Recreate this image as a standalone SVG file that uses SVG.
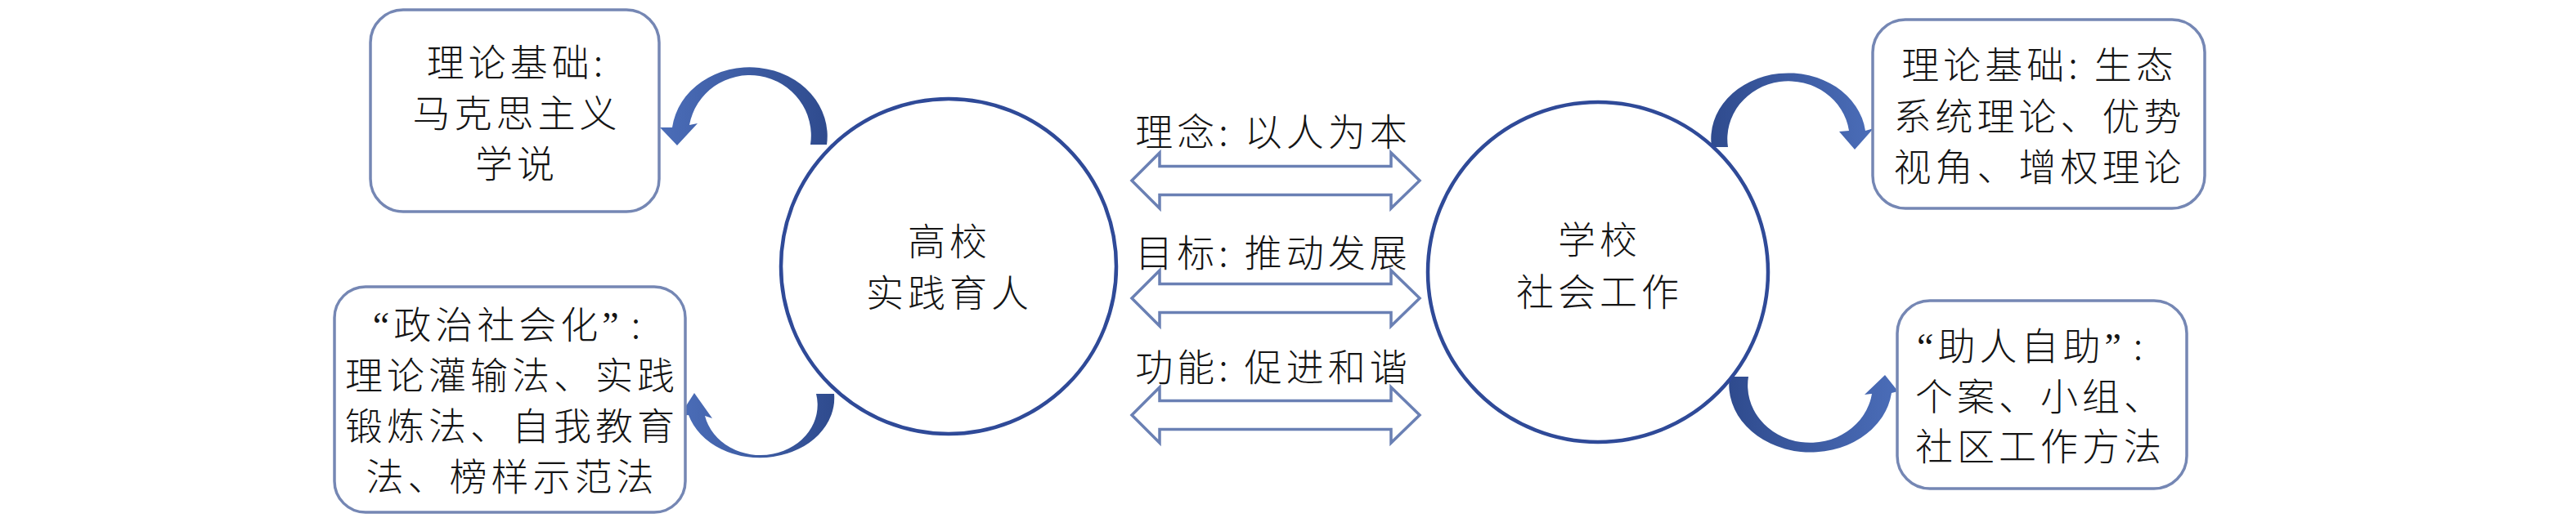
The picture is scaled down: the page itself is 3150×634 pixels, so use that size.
<svg xmlns="http://www.w3.org/2000/svg" width="3150" height="634" viewBox="0 0 3150 634">
  <defs>
    <style>
      .t { font-family: "Noto Sans CJK SC", "Noto Sans CJK TC", sans-serif; font-size: 46px; font-weight: 300; fill: #151515; letter-spacing: 5px; }
      .q { font-family: "Liberation Serif", serif; font-weight: normal; }
      .c { text-anchor: middle; }
      .s { text-anchor: start; }
      .box { fill: #ffffff; stroke: #7587B4; stroke-width: 3.5; }
      .circ { fill: #ffffff; stroke: #2F4A98; stroke-width: 4.5; }
      .dbl { fill: #ffffff; stroke: #6A80B4; stroke-width: 3.5; stroke-linejoin: miter; }
    </style>
    <linearGradient id="gHeadLeft" x1="1" y1="0" x2="0" y2="0">
      <stop offset="0" stop-color="#2F4B8E"/>
      <stop offset="1" stop-color="#4B6DB8"/>
    </linearGradient>
    <linearGradient id="gHeadRight" x1="0" y1="0" x2="1" y2="0">
      <stop offset="0" stop-color="#2F4B8E"/>
      <stop offset="1" stop-color="#4B6DB8"/>
    </linearGradient>
    <path id="dblArrow" d="M 1384,0 L 1418,-34 L 1418,-17.5 L 1701,-17.5 L 1701,-34 L 1736,0 L 1701,34 L 1701,17.5 L 1418,17.5 L 1418,34 Z"/>
  </defs>

  <rect width="3150" height="634" fill="#ffffff"/>

  <!-- connectors -->
  <g id="connectors">
    <use href="#dblArrow" class="dbl" transform="translate(0,221)"/>
    <use href="#dblArrow" class="dbl" transform="translate(0,365)"/>
    <use href="#dblArrow" class="dbl" transform="translate(0,508)"/>

    <!-- curved arrows -->
    <path id="arrowTL" fill="url(#gHeadLeft)" d="M 1011,177 A 95 84 0 0 0 822,156 L 807,156 L 828,178 L 853,151 L 843,153 A 75 74 0 0 1 991,177 Z"/>
    <path id="arrowBL" fill="url(#gHeadLeft)" d="M 1020,482 A 91 73 0 0 1 842,508 L 831,509 L 849,481 L 871,512 L 862,509 A 69 61 0 0 0 998,482 Z"/>
    <path id="arrowTR" fill="url(#gHeadRight)" d="M 2093,180 A 94 80 0 0 1 2281,160 L 2291,157 L 2268,183 L 2249,161 L 2261,160 A 74 70 0 0 0 2113,180 Z"/>
    <path id="arrowBR" fill="url(#gHeadRight)" d="M 2115,461 A 99 82 0 0 0 2313,481 L 2321,479 L 2305,459 L 2280,483 L 2289,482 A 76 70 0 0 1 2138,461 Z"/>
  </g>

  <g id="edge-labels">
    <text class="t c" x="1557" y="178">理念: 以人为本</text>
    <text class="t c" x="1557" y="326">目标: 推动发展</text>
    <text class="t c" x="1557" y="466">功能: 促进和谐</text>
  </g>

  <g id="node-university">
    <circle class="circ" cx="1160" cy="326" r="205"/>
    <text class="t c" x="1161" y="312">高校</text>
    <text class="t c" x="1161" y="375">实践育人</text>
  </g>

  <g id="node-school-sw">
    <circle class="circ" cx="1954" cy="333" r="208"/>
    <text class="t c" x="1956" y="310">学校</text>
    <text class="t c" x="1956" y="374">社会工作</text>
  </g>

  <g id="node-marx">
    <rect class="box" x="453" y="12" width="353" height="247" rx="40" ry="40"/>
    <text class="t c" x="632" y="93">理论基础:</text>
    <text class="t c" x="632" y="155">马克思主义</text>
    <text class="t c" x="632" y="217">学说</text>
  </g>

  <g id="node-political">
    <rect class="box" x="409" y="351" width="429" height="276" rx="38" ry="38"/>
    <text class="t c" x="622" y="414"><tspan class="q">“</tspan>政治社会化<tspan class="q">”</tspan><tspan dx="10">:</tspan></text>
    <text class="t c" x="626" y="476">理论灌输法、实践</text>
    <text class="t c" x="626" y="538">锻炼法、自我教育</text>
    <text class="t c" x="626" y="600">法、榜样示范法</text>
  </g>

  <g id="node-sw-theory">
    <rect class="box" x="2290" y="24" width="406" height="231" rx="40" ry="40"/>
    <text class="t c" x="2494" y="96">理论基础: 生态</text>
    <text class="t c" x="2494" y="159">系统理论、优势</text>
    <text class="t c" x="2494" y="221">视角、增权理论</text>
  </g>

  <g id="node-helping">
    <rect class="box" x="2320" y="368" width="354" height="230" rx="40" ry="40"/>
    <text class="t s" x="2344" y="440"><tspan class="q">“</tspan>助人自助<tspan class="q">”</tspan><tspan dx="10">:</tspan></text>
    <text class="t s" x="2342" y="502">个案、小组、</text>
    <text class="t s" x="2342" y="563">社区工作方法</text>
  </g>
</svg>
